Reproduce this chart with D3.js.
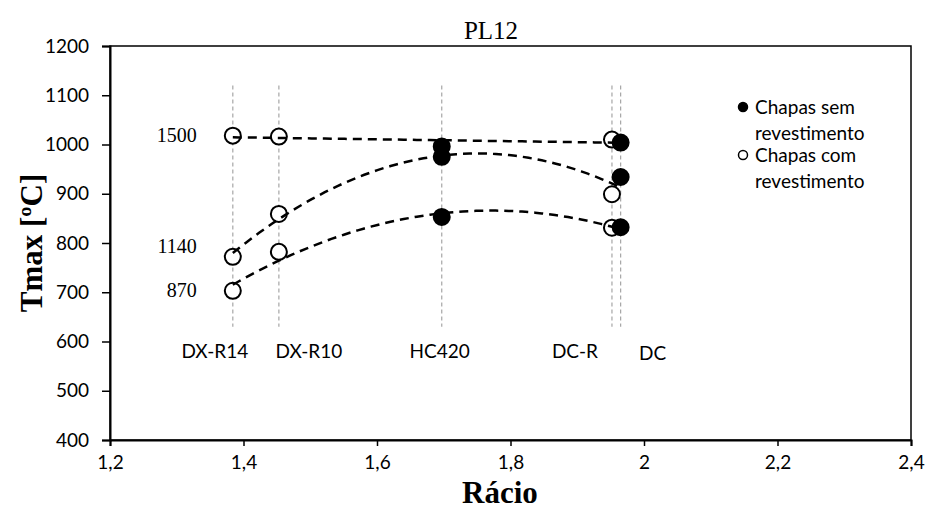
<!DOCTYPE html>
<html>
<head>
<meta charset="utf-8">
<script src="https://cdn.jsdelivr.net/npm/d3@7"></script>
<style>
  body { margin: 0; background: #fff; }
  svg text { fill: #000; }
</style>
</head>
<body>
<div id="chart"></div>
<script>
// steel grades and their ratio (x position)
const grades = ["DX-R14", "DX-R10", "HC420", "DC-R", "DC"];
const ratios = [1.384, 1.453, 1.697, 1.952, 1.965];
const coated = [true, true, false, true, false];

// Tmax per grade for each series (1500, 1140, 870)
const seriesNames = ["1500", "1140", "870"];
const t1500 = [1018, 1016, 996, 1010, 1004];
const t1140 = [772, 859, 975, 899, 934];
const t870 = [703, 782, 853, 831, 832];
const fitOrder = [1, 2, 2];

const xTicks = [1.2, 1.4, 1.6, 1.8, 2, 2.2, 2.4];
const yTicks = [400, 500, 600, 700, 800, 900, 1000, 1100, 1200];
const legendItems = [
  { lines: ["Chapas sem", "revestimento"], filled: true },
  { lines: ["Chapas com", "revestimento"], filled: false }
];

const width = 928, height = 514;
const margin = { top: 46, right: 17, bottom: 74, left: 110 };
const sans = "Lato, 'Open Sans', sans-serif";
const serif = "'Liberation Serif', 'Times New Roman', serif";

// least squares polynomial fit, returns coefficients c0..cn
const polyfit = (xs, ys, n) => {
  const m = n + 1;
  const A = Array.from({ length: m }, () => new Array(m + 1).fill(0));
  xs.forEach((x, k) => {
    for (let i = 0; i < m; i++) {
      for (let j = 0; j < m; j++) A[i][j] += Math.pow(x, i + j);
      A[i][m] += ys[k] * Math.pow(x, i);
    }
  });
  for (let i = 0; i < m; i++) {
    let p = i;
    for (let r = i + 1; r < m; r++) if (Math.abs(A[r][i]) > Math.abs(A[p][i])) p = r;
    [A[i], A[p]] = [A[p], A[i]];
    for (let r = 0; r < m; r++) {
      if (r === i) continue;
      const f = A[r][i] / A[i][i];
      for (let c = i; c <= m; c++) A[r][c] -= f * A[i][c];
    }
  }
  return A.map((row, i) => row[m] / row[i]);
};

const svg = d3.select("#chart").append("svg")
  .attr("width", width)
  .attr("height", height);

const x = d3.scaleLinear().domain([1.2, 2.4]).range([margin.left, width - margin.right]);
const y = d3.scaleLinear().domain([400, 1200]).range([height - margin.bottom, margin.top]);

// plot frame
svg.append("rect")
  .attr("x", x(1.2)).attr("y", y(1200))
  .attr("width", x(2.4) - x(1.2)).attr("height", y(400) - y(1200))
  .attr("fill", "none").attr("stroke", "#000").attr("stroke-width", 1.5);

// axes
const yAxis = svg.append("g")
  .attr("transform", `translate(${x(1.2)},0)`)
  .call(d3.axisLeft(y).tickValues(yTicks).tickSize(8).tickPadding(13).tickFormat(d3.format("d")));
const xAxis = svg.append("g")
  .attr("transform", `translate(0,${y(400)})`)
  .call(d3.axisBottom(x).tickValues(xTicks).tickSize(6).tickPadding(10)
    .tickFormat(d => String(d).replace(".", ",")));
[xAxis, yAxis].forEach(g => {
  g.select(".domain").attr("stroke-width", 2);
  g.selectAll(".tick line").attr("stroke-width", 1.5);
  g.selectAll("text").style("font-family", sans).style("font-size", "19px").attr("fill", "#000");
});

// vertical guides for each grade
svg.append("g").selectAll("line")
  .data(ratios)
  .join("line")
  .attr("x1", d => x(d)).attr("x2", d => x(d))
  .attr("y1", y(1120)).attr("y2", y(630))
  .attr("stroke", "#a6a6a6").attr("stroke-width", 1.2)
  .attr("stroke-dasharray", "4,3");

// grade labels
const labelDx = [-18, 30, -2, -37, 32];
const labelDy = [0, 0, 0, 0, 2];
svg.append("g").selectAll("text")
  .data(grades)
  .join("text")
  .attr("x", (d, i) => x(ratios[i]) + labelDx[i])
  .attr("y", (d, i) => 358 + labelDy[i])
  .attr("text-anchor", "middle")
  .style("font-family", sans).style("font-size", "19px")
  .text(d => d);

const allSeries = [t1500, t1140, t870];

// markers
allSeries.forEach(vals => {
  svg.append("g").selectAll("circle")
    .data(vals)
    .join("circle")
    .attr("cx", (d, i) => x(ratios[i]))
    .attr("cy", d => y(d))
    .attr("r", 8)
    .attr("fill", (d, i) => coated[i] ? "#fff" : "#000")
    .attr("stroke", "#000").attr("stroke-width", 2);
});

// trend lines
allSeries.forEach((vals, s) => {
  const c = polyfit(ratios, vals, fitOrder[s]);
  const f = v => c.reduce((acc, ci, i) => acc + ci * Math.pow(v, i), 0);
  const xs = d3.range(60).map(i => d3.min(ratios) + (d3.max(ratios) - d3.min(ratios)) * i / 59);
  svg.append("path")
    .datum(xs)
    .attr("d", d3.line().x(d => x(d)).y(d => y(f(d))))
    .attr("fill", "none").attr("stroke", "#000").attr("stroke-width", 2.5)
    .attr("stroke-dasharray", "9,6");
});

// series names at the left
const nameDy = [0, -10, 0];
svg.append("g").selectAll("text")
  .data(seriesNames)
  .join("text")
  .attr("x", x(ratios[0]) - 36)
  .attr("y", (d, i) => y(allSeries[i][0]) + nameDy[i])
  .attr("dy", "0.3em")
  .attr("text-anchor", "end")
  .style("font-family", serif).style("font-size", "20px")
  .text(d => d);

// title
svg.append("text")
  .attr("x", 491).attr("y", 39)
  .attr("text-anchor", "middle")
  .style("font-family", serif).style("font-size", "25px")
  .text("PL12");

// axis titles
svg.append("text")
  .attr("x", 500).attr("y", 503)
  .attr("text-anchor", "middle")
  .style("font-family", serif).style("font-size", "31px").style("font-weight", "bold")
  .text("Rácio");
svg.append("text")
  .attr("transform", `translate(42,${(y(400) + y(1200)) / 2}) rotate(-90)`)
  .attr("text-anchor", "middle")
  .style("font-family", serif).style("font-size", "31px").style("font-weight", "bold")
  .text("Tmax [ºC]");

// legend
const legend = svg.append("g");
legendItems.forEach((item, k) => {
  const ly = 107 + k * 48;
  legend.append("circle")
    .attr("cx", 743).attr("cy", ly).attr("r", 4.5)
    .attr("fill", item.filled ? "#000" : "#fff")
    .attr("stroke", "#000").attr("stroke-width", 1.5);
  item.lines.forEach((t, j) => {
    legend.append("text")
      .attr("x", 755).attr("y", ly + j * 26)
      .attr("dy", "0.35em")
      .style("font-family", sans).style("font-size", "19px")
      .text(t);
  });
});
</script>
</body>
</html>
